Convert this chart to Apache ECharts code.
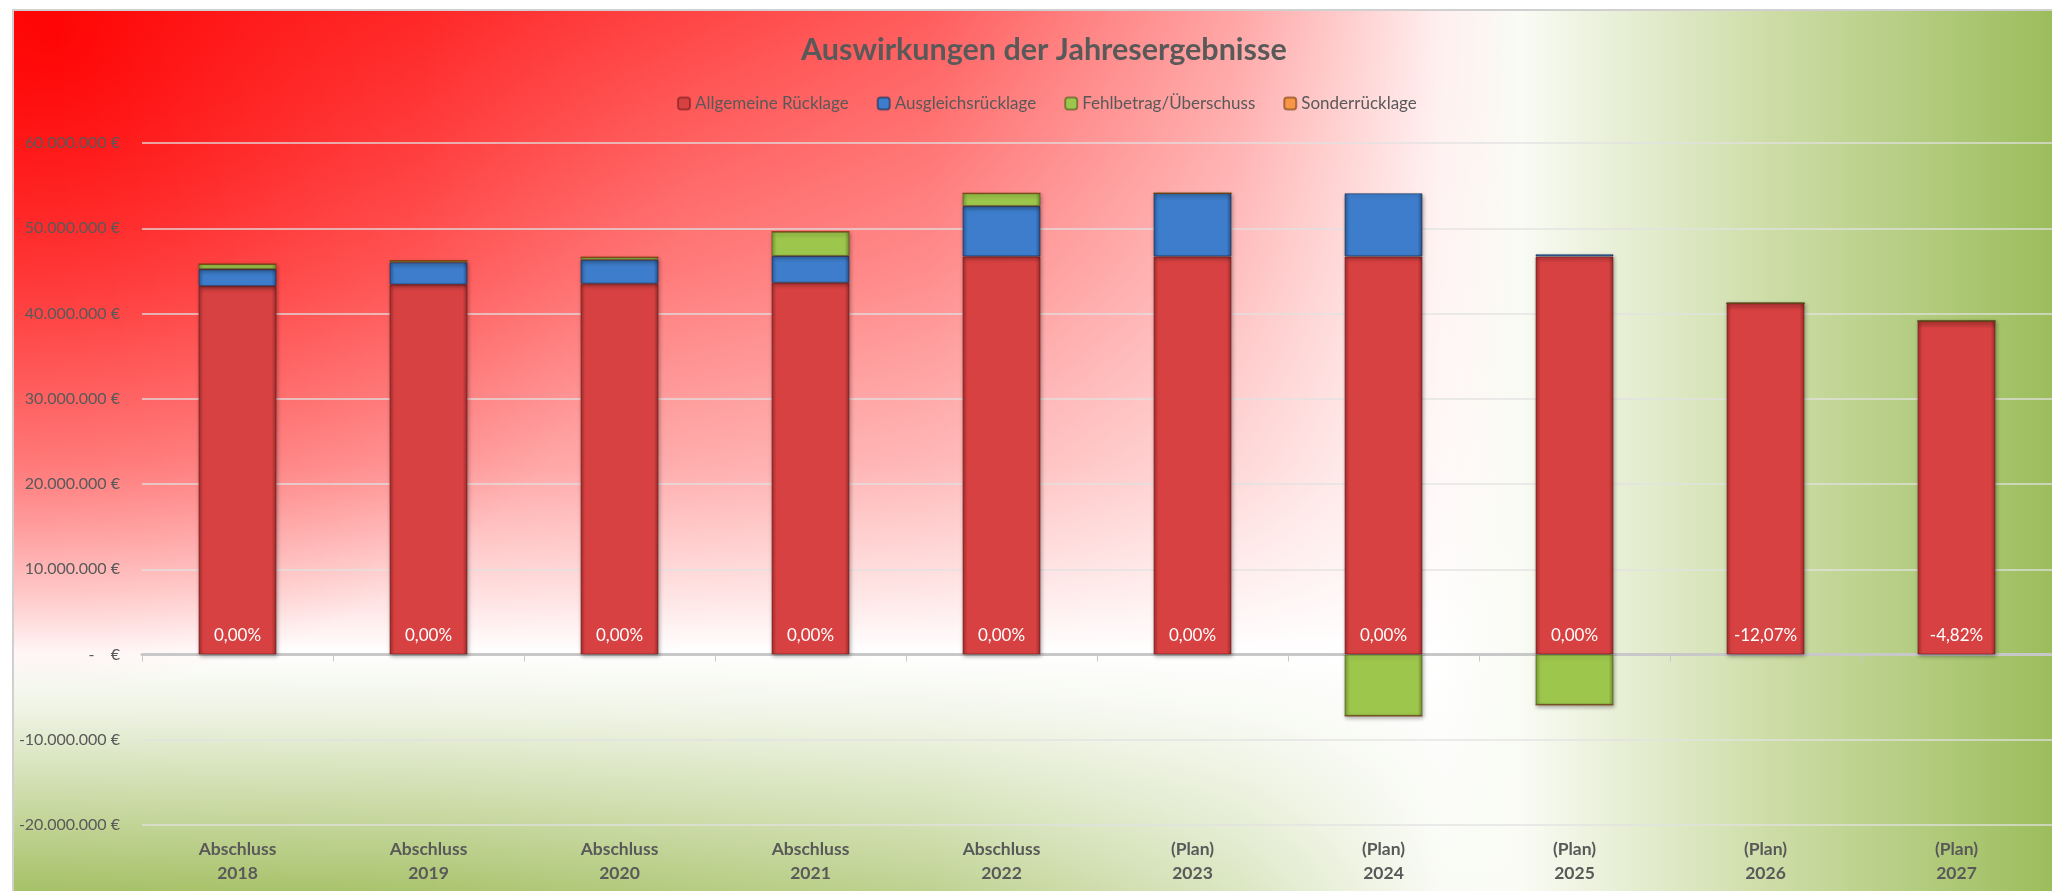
<!DOCTYPE html>
<html>
<head>
<meta charset="utf-8">
<title>Auswirkungen der Jahresergebnisse</title>
<script src="https://cdn.jsdelivr.net/npm/echarts@6/dist/echarts.min.js"></script>
<style>
  html, body { margin: 0; padding: 0; background: #fff; }
  #main { width: 2052px; height: 891px; }
</style>
</head>
<body>
<div id="main"></div>
<script>
// Kategorien
const labelTop = ['Abschluss', 'Abschluss', 'Abschluss', 'Abschluss', 'Abschluss', '(Plan)', '(Plan)', '(Plan)', '(Plan)', '(Plan)']
const years = ['2018', '2019', '2020', '2021', '2022', '2023', '2024', '2025', '2026', '2027']

// Werte in Euro
const allgemeineRuecklage = [43200000, 43400000, 43500000, 43600000, 46700000, 46700000, 46700000, 46700000, 41200000, 39100000]
const ausgleichsRuecklage = [2000000, 2600000, 2800000, 3150000, 5900000, 7400000, 7400000, 250000, 0, 0]
const fehlbetragUeberschuss = [600000, 200000, 300000, 2850000, 1500000, 0, -7200000, -5900000, 0, 0]
const sonderRuecklage = [0, 0, 0, 0, 0, 0, 0, 0, 0, 0]
const pctLabels = ['0,00%', '0,00%', '0,00%', '0,00%', '0,00%', '0,00%', '0,00%', '0,00%', '-12,07%', '-4,82%']

// y-Achse
const yMin = -20000000
const yMax = 60000000
const yStep = 10000000

const FONT = "Lato, Roboto, sans-serif"
const GREY = '#595959'

function euro (v) {
  if (v === 0) return '-    €'
  let s = String(Math.abs(v)).replace(/\B(?=(\d{3})+(?!\d))/g, '.')
  return (v < 0 ? '-' : '') + s + ' €'
}

function bevel (edge, mid, edge2) {
  return {
    type: 'linear', x: 0, y: 0, x2: 1, y2: 0,
    colorStops: [
      { offset: 0, color: edge },
      { offset: 0.06, color: mid },
      { offset: 0.94, color: mid },
      { offset: 1, color: edge2 }
    ]
  }
}

const barShadow = {
  shadowColor: 'rgba(0,0,0,0.35)',
  shadowBlur: 4,
  shadowOffsetX: 1,
  shadowOffsetY: 2
}

let myChart = echarts.init(document.getElementById('main'))

myChart.setOption({
  animation: false,
  backgroundColor: '#ffffff',
  graphic: [
    {
      // senkrechter Verlauf rot -> weiss -> gruen
      type: 'rect', z: -100, silent: true,
      shape: { x: 13, y: 10, width: 2039, height: 881 },
      style: {
        fill: {
          type: 'linear', x: 0, y: 0, x2: 0, y2: 1,
          colorStops: [
            { offset: 0, color: '#ff1e1e' },
            { offset: 0.3, color: '#ff6262' },
            { offset: 0.52, color: '#ff9e9e' },
            { offset: 0.66, color: '#ffdcdc' },
            { offset: 0.73, color: '#ffffff' },
            { offset: 0.8, color: '#edf2e1' },
            { offset: 1, color: '#a6c167' }
          ]
        }
      }
    },
    {
      // rote Ecke oben links
      type: 'rect', z: -99, silent: true,
      shape: { x: 13, y: 10, width: 2039, height: 881 },
      style: {
        fill: {
          type: 'radial', x: 0.02, y: 0.02, r: 0.75,
          colorStops: [
            { offset: 0, color: 'rgba(255,0,0,0.9)' },
            { offset: 0.5, color: 'rgba(255,20,20,0.4)' },
            { offset: 1, color: 'rgba(255,40,40,0)' }
          ]
        }
      }
    },
    {
      // waagerechter Verlauf nach rechts ins Gruene
      type: 'rect', z: -98, silent: true,
      shape: { x: 13, y: 10, width: 2039, height: 881 },
      style: {
        fill: {
          type: 'linear', x: 0, y: 0, x2: 1, y2: 0,
          colorStops: [
            { offset: 0, color: 'rgba(255,255,255,0)' },
            { offset: 0.2, color: 'rgba(255,255,255,0.05)' },
            { offset: 0.45, color: 'rgba(255,255,255,0.28)' },
            { offset: 0.6, color: 'rgba(255,255,255,0.6)' },
            { offset: 0.7, color: 'rgba(255,255,255,0.93)' },
            { offset: 0.74, color: 'rgba(249,251,244,1)' },
            { offset: 0.86, color: 'rgba(206,221,168,1)' },
            { offset: 1, color: 'rgba(156,189,92,1)' }
          ]
        }
      }
    },
    {
      type: 'rect', z: -97, silent: true,
      shape: { x: 13, y: 10, width: 2045, height: 890 },
      style: { fill: 'none', stroke: '#d0d0d0', lineWidth: 2 }
    }
  ],
  title: {
    text: 'Auswirkungen der Jahresergebnisse',
    left: 801,
    top: 35,
    padding: 0,
    textStyle: { fontFamily: FONT, fontSize: 30.5, fontWeight: 'bold', color: GREY }
  },
  legend: {
    left: 672,
    top: 90,
    itemWidth: 12,
    itemHeight: 12,
    itemGap: 28,
    textStyle: { fontFamily: FONT, fontSize: 17, color: GREY },
    data: ['Allgemeine Rücklage', 'Ausgleichsrücklage', 'Fehlbetrag/Überschuss', 'Sonderrücklage']
  },
  grid: {
    left: 142,
    top: 143,
    width: 1922,
    height: 682
  },
  xAxis: [
    {
      type: 'category',
      position: 'bottom',
      data: years.map((y, i) => labelTop[i] + '\n' + y),
      axisLine: { show: false, onZero: false },
      axisTick: { show: false },
      axisLabel: {
        margin: 12,
        fontFamily: FONT, fontSize: 17.5, fontWeight: 'bold', color: GREY, lineHeight: 24
      }
    },
    {
      type: 'category',
      position: 'top',
      data: years,
      axisLine: { show: true, onZero: true, lineStyle: { color: '#c8c8c8', width: 3 } },
      axisTick: { show: true, inside: true, length: 7, lineStyle: { color: '#c8c8c8', width: 1 } },
      axisLabel: { show: false }
    }
  ],
  yAxis: {
    type: 'value',
    min: yMin,
    max: yMax,
    interval: yStep,
    axisLine: { show: false },
    axisTick: { show: false },
    splitLine: { lineStyle: { color: 'rgba(225,225,225,0.9)', width: 1.5 } },
    axisLabel: {
      margin: 22,
      fontFamily: FONT, fontSize: 16, color: GREY,
      formatter: euro
    }
  },
  series: [
    {
      name: 'Allgemeine Rücklage',
      type: 'bar',
      stack: 'total',
      barWidth: 78,
      data: allgemeineRuecklage,
      itemStyle: Object.assign({
        color: bevel('#a02c2c', '#d84141', '#982a2a'),
        borderColor: 'rgba(110,25,25,0.55)', borderWidth: 1
      }, barShadow),
      label: {
        show: true,
        position: 'insideBottom',
        distance: 10,
        color: '#ffffff',
        fontFamily: FONT,
        fontSize: 17,
        formatter: (p) => pctLabels[p.dataIndex]
      }
    },
    {
      name: 'Ausgleichsrücklage',
      type: 'bar',
      stack: 'total',
      barWidth: 78,
      data: ausgleichsRuecklage,
      itemStyle: Object.assign({
        color: bevel('#2a5a96', '#3d7dcb', '#284f86'),
        borderColor: 'rgba(25,45,80,0.6)', borderWidth: 1
      }, barShadow)
    },
    {
      name: 'Fehlbetrag/Überschuss',
      type: 'bar',
      stack: 'total',
      barWidth: 78,
      data: fehlbetragUeberschuss,
      itemStyle: Object.assign({
        color: bevel('#76962f', '#9dc64c', '#6e8c2a'),
        borderColor: 'rgba(70,90,25,0.6)', borderWidth: 1
      }, barShadow)
    },
    {
      name: 'Sonderrücklage',
      type: 'bar',
      stack: 'total',
      barWidth: 78,
      data: sonderRuecklage,
      itemStyle: Object.assign({
        color: bevel('#c8701e', '#f79646', '#b8661a'),
        borderColor: 'rgba(120,60,10,0.6)', borderWidth: 1
      }, barShadow)
    }
  ]
})
</script>
</body>
</html>
